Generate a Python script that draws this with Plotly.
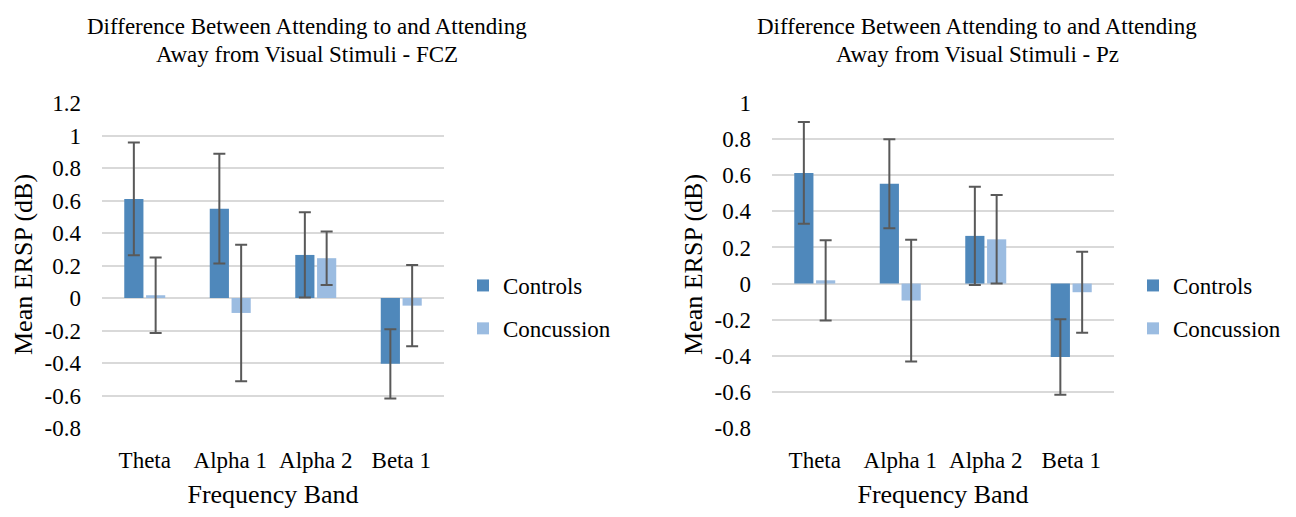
import plotly.graph_objects as go

categories = ["Theta", "Alpha 1", "Alpha 2", "Beta 1"]

# FCZ panel
fcz_controls = [0.61, 0.55, 0.265, -0.405]
fcz_controls_err = [0.347, 0.338, 0.262, 0.213]
fcz_concussion = [0.017, -0.092, 0.245, -0.047]
fcz_concussion_err = [0.233, 0.42, 0.165, 0.25]

# Pz panel
pz_controls = [0.613, 0.553, 0.264, -0.407]
pz_controls_err = [0.282, 0.246, 0.272, 0.209]
pz_concussion = [0.018, -0.094, 0.245, -0.048]
pz_concussion_err = [0.222, 0.337, 0.245, 0.224]

# y tick labels (hyphen minus, as in the reference)
fcz_tickvals = [-0.8, -0.6, -0.4, -0.2, 0, 0.2, 0.4, 0.6, 0.8, 1.0, 1.2]
fcz_ticktext = ["-0.8", "-0.6", "-0.4", "-0.2", "0", "0.2", "0.4", "0.6", "0.8", "1", "1.2"]
pz_tickvals = [-0.8, -0.6, -0.4, -0.2, 0, 0.2, 0.4, 0.6, 0.8, 1.0]
pz_ticktext = ["-0.8", "-0.6", "-0.4", "-0.2", "0", "0.2", "0.4", "0.6", "0.8", "1"]

series_names = ["Controls", "Concussion"]
colors = ["#4F88BB", "#9BBCE1"]
ERR_COLOR = "#595959"
FONT = "Liberation Serif"

# the page body has an 8px margin; figure is sized to fill the rest of the window
OFF = 8
W, H = 1296 - OFF, 517 - OFF

def xp(px):
    return (px - OFF) / W

def yp(py):
    return 1 - (py - OFF) / H

fig = go.Figure()

def err(vals):
    return dict(type="data", array=vals, visible=True, color=ERR_COLOR, thickness=2, width=6)

panels = [
    ("x", "y", "legend", [fcz_controls, fcz_concussion], [fcz_controls_err, fcz_concussion_err]),
    ("x2", "y2", "legend2", [pz_controls, pz_concussion], [pz_controls_err, pz_concussion_err]),
]
for xa, ya, lg, vals, errs in panels:
    for i in range(2):
        fig.add_trace(go.Bar(
            x=categories, y=vals[i], name=series_names[i], marker_color=colors[i],
            marker_line_width=0, error_y=err(errs[i]), xaxis=xa, yaxis=ya, legend=lg,
            legendgroup=lg + series_names[i],
        ))

ydom = [yp(428), yp(103)]
axis_common = dict(showgrid=True, gridcolor="#D9D9D9", gridwidth=2, zeroline=True,
                   zerolinecolor="#D9D9D9", zerolinewidth=2, showline=False,
                   tickfont=dict(family=FONT, size=23, color="black"), ticks="",
                   ticklabelstandoff=20, automargin=False)
xcommon = dict(showgrid=False, showline=False, ticks="", automargin=False,
               tickfont=dict(family=FONT, size=23, color="black"),
               title_font=dict(family=FONT, size=26, color="black"),
               ticklabelstandoff=16, title_standoff=12)

legend_common = dict(xanchor="left", yanchor="top",
                     font=dict(family=FONT, size=23, color="black"), tracegroupgap=10,
                     itemwidth=30, bgcolor="rgba(0,0,0,0)")

fig.update_layout(
    template="none",
    width=W, height=H, margin=dict(l=0, r=0, t=0, b=0),
    paper_bgcolor="white", plot_bgcolor="white",
    barmode="group", bargap=0.49, bargroupgap=0.12,
    font=dict(family=FONT, color="black"),
    xaxis=dict(domain=[xp(102), xp(444)], anchor="y", title_text="Frequency Band", **xcommon),
    xaxis2=dict(domain=[xp(772), xp(1114)], anchor="y2", title_text="Frequency Band", **xcommon),
    yaxis=dict(domain=ydom, anchor="x", range=[-0.8, 1.2], tickvals=fcz_tickvals,
               ticktext=fcz_ticktext, **axis_common),
    yaxis2=dict(domain=ydom, anchor="x2", range=[-0.8, 1.0], tickvals=pz_tickvals,
                ticktext=pz_ticktext, **axis_common),
    legend=dict(x=xp(463), y=yp(264), **legend_common),
    legend2=dict(x=xp(1133), y=yp(264), **legend_common),
    showlegend=True,
)

titles = [
    (307, ["Difference Between Attending to and Attending", "Away from Visual Stimuli - FCZ"]),
    (977, ["Difference Between Attending to and Attending", "Away from Visual Stimuli - Pz"]),
]
for cx, lines in titles:
    for j, t in enumerate(lines):
        fig.add_annotation(text=t, x=xp(cx), y=yp(27 + 28 * j), xref="paper", yref="paper",
                           xanchor="center", yanchor="middle", showarrow=False,
                           font=dict(family=FONT, size=23, color="black"))

for cx in [23, 693]:
    fig.add_annotation(text="Mean ERSP (dB)", x=xp(cx), y=yp(265), xref="paper", yref="paper",
                       xanchor="center", yanchor="middle", showarrow=False, textangle=-90,
                       font=dict(family=FONT, size=26, color="black"))

fig.write_html("out.html")
